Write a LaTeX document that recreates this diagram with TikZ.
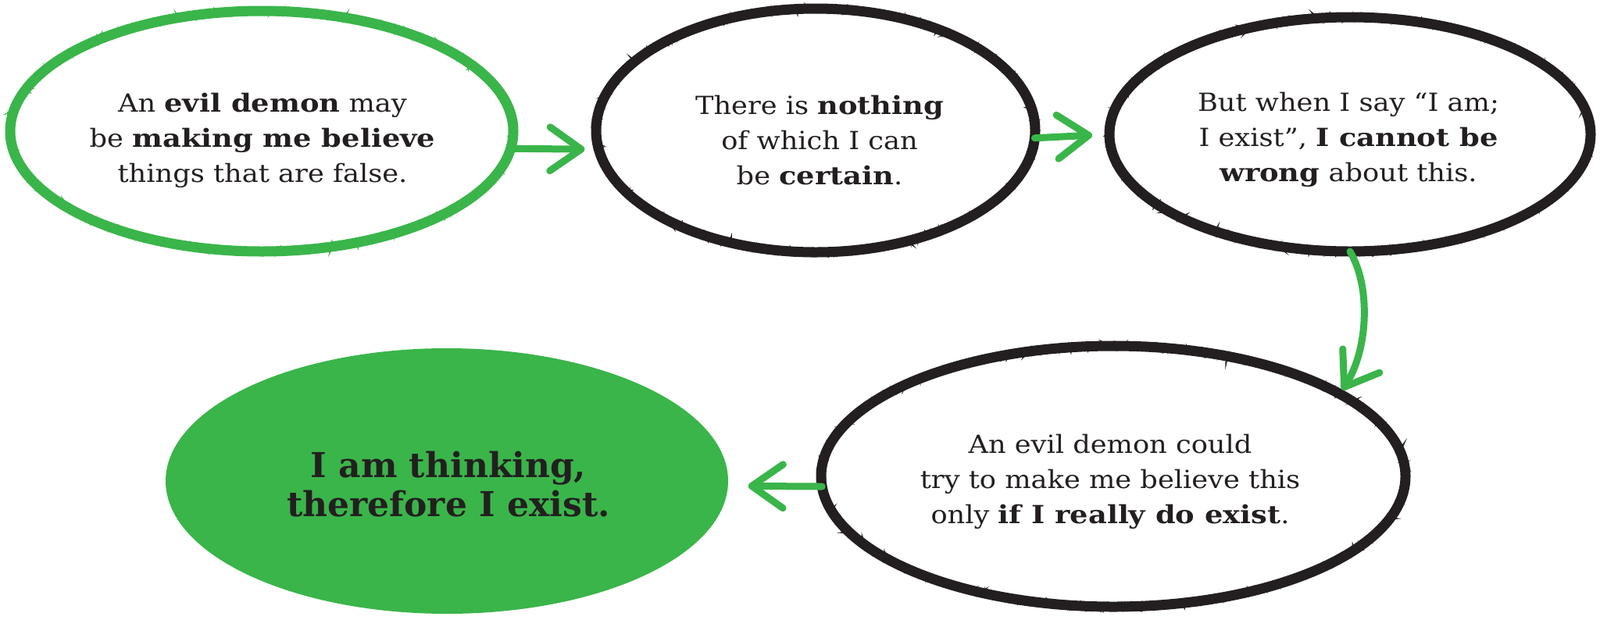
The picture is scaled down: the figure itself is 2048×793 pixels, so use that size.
\documentclass[tikz,border=0pt]{standalone}
\usepackage{fontspec}
\setmainfont{DejaVuSerif}[Extension=.ttf, FakeStretch=1.1]
\newfontfamily\wideboldfont{DejaVuSerif-Bold}[Extension=.ttf, FakeStretch=1.15]
\newfontfamily\heavyfont{DejaVuSerif-Bold}[Extension=.ttf]
\newcommand{\wbold}[1]{{\wideboldfont #1}}
\usetikzlibrary{shapes.geometric,arrows.meta,decorations.pathmorphing}
\definecolor{dgreen}{HTML}{3AB54A}
\definecolor{ink}{HTML}{231F20}
\tikzset{
  crayon/.style={draw=#1, line width=6.5pt,
    postaction={draw=#1, line width=1.4pt, decorate,
      decoration={random steps, segment length=1.6pt, amplitude=2.2pt}},
    postaction={draw=#1, line width=0.5pt, decorate,
      decoration={random steps, segment length=0.8pt, amplitude=3pt}}},
  oval/.style={ellipse, inner sep=0pt, outer sep=0pt},
  txt/.style={text=ink, align=center, font=\fontsize{16}{22.5}\selectfont},
  bigtxt/.style={text=ink, align=center, font=\heavyfont\fontsize{22}{25}\selectfont},
  arr/.style={draw=dgreen, line width=4.5pt, line cap=round,
    -{Straight Barb[length=20pt,width=28pt,round]}},
}
\begin{document}
\begin{tikzpicture}[x=0.5pt, y=-0.5pt]
\useasboundingbox (0,0) rectangle (2048,793);
% ovals
\node[oval, crayon=dgreen, minimum width=322pt, minimum height=154pt] (e1) at (335,168) {};
\node[oval, crayon=ink, minimum width=281pt, minimum height=156pt] (e2) at (1044,167) {};
\node[oval, crayon=ink, minimum width=308pt, minimum height=150pt] (e3) at (1728,172) {};
\node[oval, crayon=ink, minimum width=374pt, minimum height=167pt] (e4) at (1425,610) {};
\node[oval, fill=dgreen, minimum width=360pt, minimum height=170pt] (e5) at (572,616) {};
% texts
\node[txt] (t1) at (336,180) {An \wbold{evil demon} may\\ be \wbold{making me believe}\\ things that are false.};
\node[txt] (t2) at (1049,180) {There is \wbold{nothing}\\ of which I can\\ be \wbold{certain}.};
\node[txt] (t3) at (1726,179) {But when I say “I am;\\ I exist”, \wbold{I cannot be}\\ \wbold{wrong} about this.};
\node[txt] (t4) at (1421,617) {An evil demon could\\ try to make me believe this\\ only \wbold{if I really do exist}.};
\node[bigtxt] (t5) at (574,620) {I am thinking,\\ therefore I exist.};
% connectors
\draw[arr, shorten >=9pt] (e1.-4) -- (e2.185);
\draw[arr, shorten >=11pt] (e2.-2) -- (e3.180);
\draw[arr, shorten >=3pt] (e3.south) .. controls (1756,370) and (1750,450) .. (e4.20);
\draw[arr, shorten >=13pt] (e4.182) -- (e5.-1);
\end{tikzpicture}
\end{document}
